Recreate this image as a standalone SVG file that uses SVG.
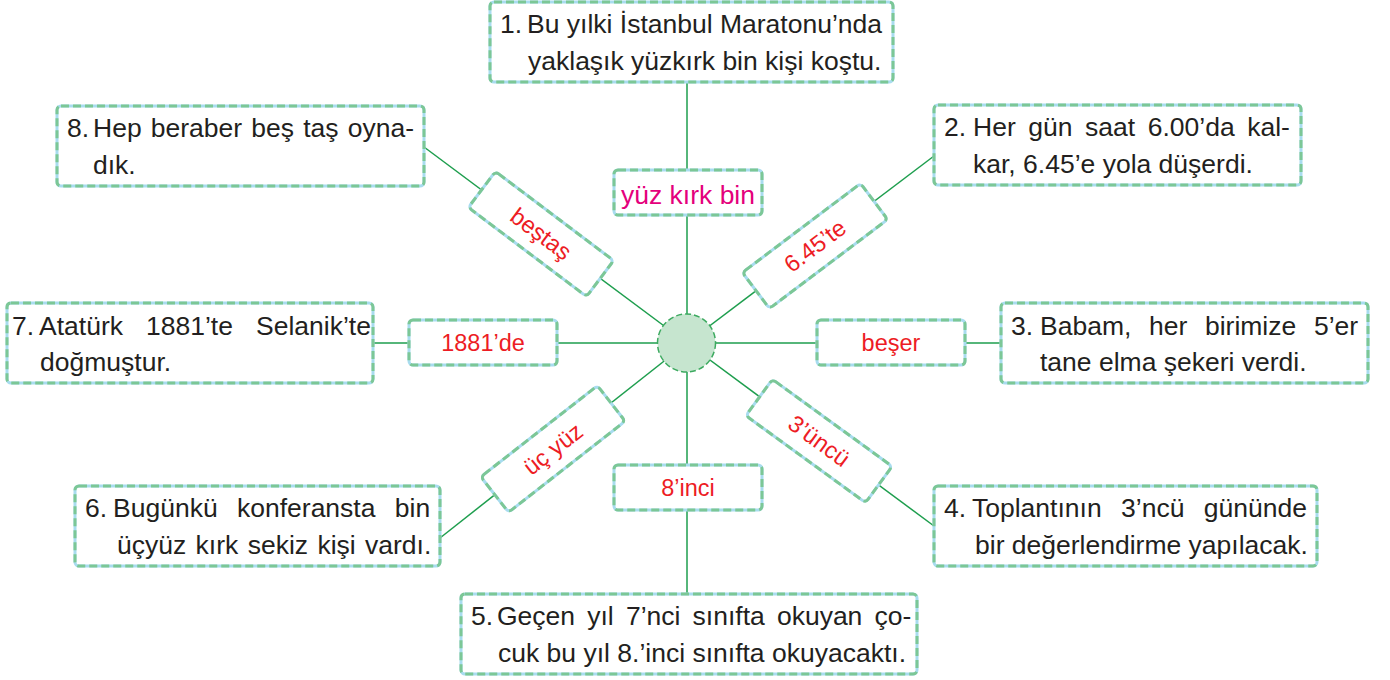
<svg xmlns="http://www.w3.org/2000/svg" width="1390" height="680" viewBox="0 0 1390 680">
<style>
.bb{fill:#fff;stroke:#a8dcef;stroke-width:3}
.bd{fill:none;stroke:#7cc796;stroke-width:3;stroke-dasharray:8 4}
.t{font-family:"Liberation Sans",Arial,sans-serif;font-size:26.5px;fill:#231f20}
.r{font-family:"Liberation Sans",Arial,sans-serif;font-size:23.5px;fill:#ed1c24;text-anchor:middle}
.m{font-family:"Liberation Sans",Arial,sans-serif;font-size:26.5px;fill:#e4007c;text-anchor:middle}
.ln{stroke:#1e9e4e;stroke-width:1.5;fill:none}
</style>
<g id="connectors">
<line class="ln" x1="687" y1="82" x2="687" y2="594"/>
<line class="ln" x1="373" y1="343" x2="1001" y2="343"/>
<line class="ln" x1="687" y1="343" x2="424" y2="147"/>
<line class="ln" x1="687" y1="343" x2="934" y2="156"/>
<line class="ln" x1="687" y1="343" x2="934" y2="526"/>
<line class="ln" x1="687" y1="343" x2="440" y2="538"/>
</g>
<g id="center">
<circle cx="686.5" cy="343" r="29" fill="#c6e5cf" stroke="#3daa60" stroke-width="1.5" stroke-dasharray="6 3"/>
</g>
<g id="box1">
<rect class="bb" x="490" y="2" width="403" height="80" rx="4"/>
<rect class="bd" x="490" y="2" width="403" height="80" rx="4"/>
<text class="t" x="500" y="33">1.</text>
<text class="t" x="527" y="33">Bu yılki İstanbul Maratonu’nda</text>
<text class="t" x="528" y="70">yaklaşık yüzkırk bin kişi koştu.</text>
</g>
<g id="box8">
<rect class="bb" x="57" y="106" width="367" height="80" rx="4"/>
<rect class="bd" x="57" y="106" width="367" height="80" rx="4"/>
<text class="t" x="67" y="137">8.</text>
<text class="t" x="93" y="137" word-spacing="1.8">Hep beraber beş taş oyna-</text>
<text class="t" x="93" y="174">dık.</text>
</g>
<g id="box2">
<rect class="bb" x="934" y="105" width="367" height="80" rx="4"/>
<rect class="bd" x="934" y="105" width="367" height="80" rx="4"/>
<text class="t" x="944" y="136">2.</text>
<text class="t" x="973" y="136" word-spacing="5.2">Her gün saat 6.00’da kal-</text>
<text class="t" x="973" y="173">kar, 6.45’e yola düşerdi.</text>
</g>
<g id="box7">
<rect class="bb" x="7" y="303" width="366" height="80" rx="4"/>
<rect class="bd" x="7" y="303" width="366" height="80" rx="4"/>
<text class="t" x="12" y="335">7.</text>
<text class="t" x="39" y="335" word-spacing="15.7">Atatürk 1881’te Selanik’te</text>
<text class="t" x="40" y="371">doğmuştur.</text>
</g>
<g id="box3">
<rect class="bb" x="1001" y="303" width="367" height="80" rx="4"/>
<rect class="bd" x="1001" y="303" width="367" height="80" rx="4"/>
<text class="t" x="1011" y="335">3.</text>
<text class="t" x="1040" y="335" word-spacing="10.3">Babam, her birimize 5’er</text>
<text class="t" x="1040" y="371">tane elma şekeri verdi.</text>
</g>
<g id="box6">
<rect class="bb" x="75" y="486" width="365" height="80" rx="4"/>
<rect class="bd" x="75" y="486" width="365" height="80" rx="4"/>
<text class="t" x="85" y="517">6.</text>
<text class="t" x="113" y="517" word-spacing="12">Bugünkü konferansta bin</text>
<text class="t" x="117" y="554" word-spacing="2">üçyüz kırk sekiz kişi vardı.</text>
</g>
<g id="box4">
<rect class="bb" x="934" y="486" width="383" height="80" rx="4"/>
<rect class="bd" x="934" y="486" width="383" height="80" rx="4"/>
<text class="t" x="944" y="517">4.</text>
<text class="t" x="972" y="517" word-spacing="12">Toplantının 3’ncü gününde</text>
<text class="t" x="975" y="554">bir değerlendirme yapılacak.</text>
</g>
<g id="box5">
<rect class="bb" x="461" y="594" width="456" height="80" rx="4"/>
<rect class="bd" x="461" y="594" width="456" height="80" rx="4"/>
<text class="t" x="471" y="625">5.</text>
<text class="t" x="497" y="625" word-spacing="4.8">Geçen yıl 7’nci sınıfta okuyan ço-</text>
<text class="t" x="498" y="662">cuk bu yıl 8.’inci sınıfta okuyacaktı.</text>
</g>
<g id="label-yuzkirkbin">
<rect class="bb" x="614" y="170" width="148" height="45" rx="4"/>
<rect class="bd" x="614" y="170" width="148" height="45" rx="4"/>
<text class="m" x="688" y="204">yüz kırk bin</text>
</g>
<g id="label-8inci">
<rect class="bb" x="614" y="465" width="148" height="45" rx="4"/>
<rect class="bd" x="614" y="465" width="148" height="45" rx="4"/>
<text class="r" x="688" y="496">8’inci</text>
</g>
<g id="label-1881de">
<rect class="bb" x="409" y="320" width="148" height="45" rx="4"/>
<rect class="bd" x="409" y="320" width="148" height="45" rx="4"/>
<text class="r" x="483" y="351">1881’de</text>
</g>
<g id="label-beser">
<rect class="bb" x="817" y="320" width="148" height="45" rx="4"/>
<rect class="bd" x="817" y="320" width="148" height="45" rx="4"/>
<text class="r" x="891" y="351">beşer</text>
</g>
<g id="label-bestas" transform="translate(541 234) rotate(37)">
<rect class="bb" x="-74" y="-22.5" width="148" height="45" rx="4"/>
<rect class="bd" x="-74" y="-22.5" width="148" height="45" rx="4"/>
<text class="r" x="0" y="8">beştaş</text>
</g>
<g id="label-645te" transform="translate(815 246) rotate(-37)">
<rect class="bb" x="-74" y="-22.5" width="148" height="45" rx="4"/>
<rect class="bd" x="-74" y="-22.5" width="148" height="45" rx="4"/>
<text class="r" x="0" y="8">6.45’te</text>
</g>
<g id="label-3uncu" transform="translate(819 441) rotate(36)">
<rect class="bb" x="-74" y="-22.5" width="148" height="45" rx="4"/>
<rect class="bd" x="-74" y="-22.5" width="148" height="45" rx="4"/>
<text class="r" x="0" y="8">3’üncü</text>
</g>
<g id="label-ucyuz" transform="translate(553 449) rotate(-38)">
<rect class="bb" x="-74" y="-22.5" width="148" height="45" rx="4"/>
<rect class="bd" x="-74" y="-22.5" width="148" height="45" rx="4"/>
<text class="r" x="0" y="8">üç yüz</text>
</g>
</svg>
